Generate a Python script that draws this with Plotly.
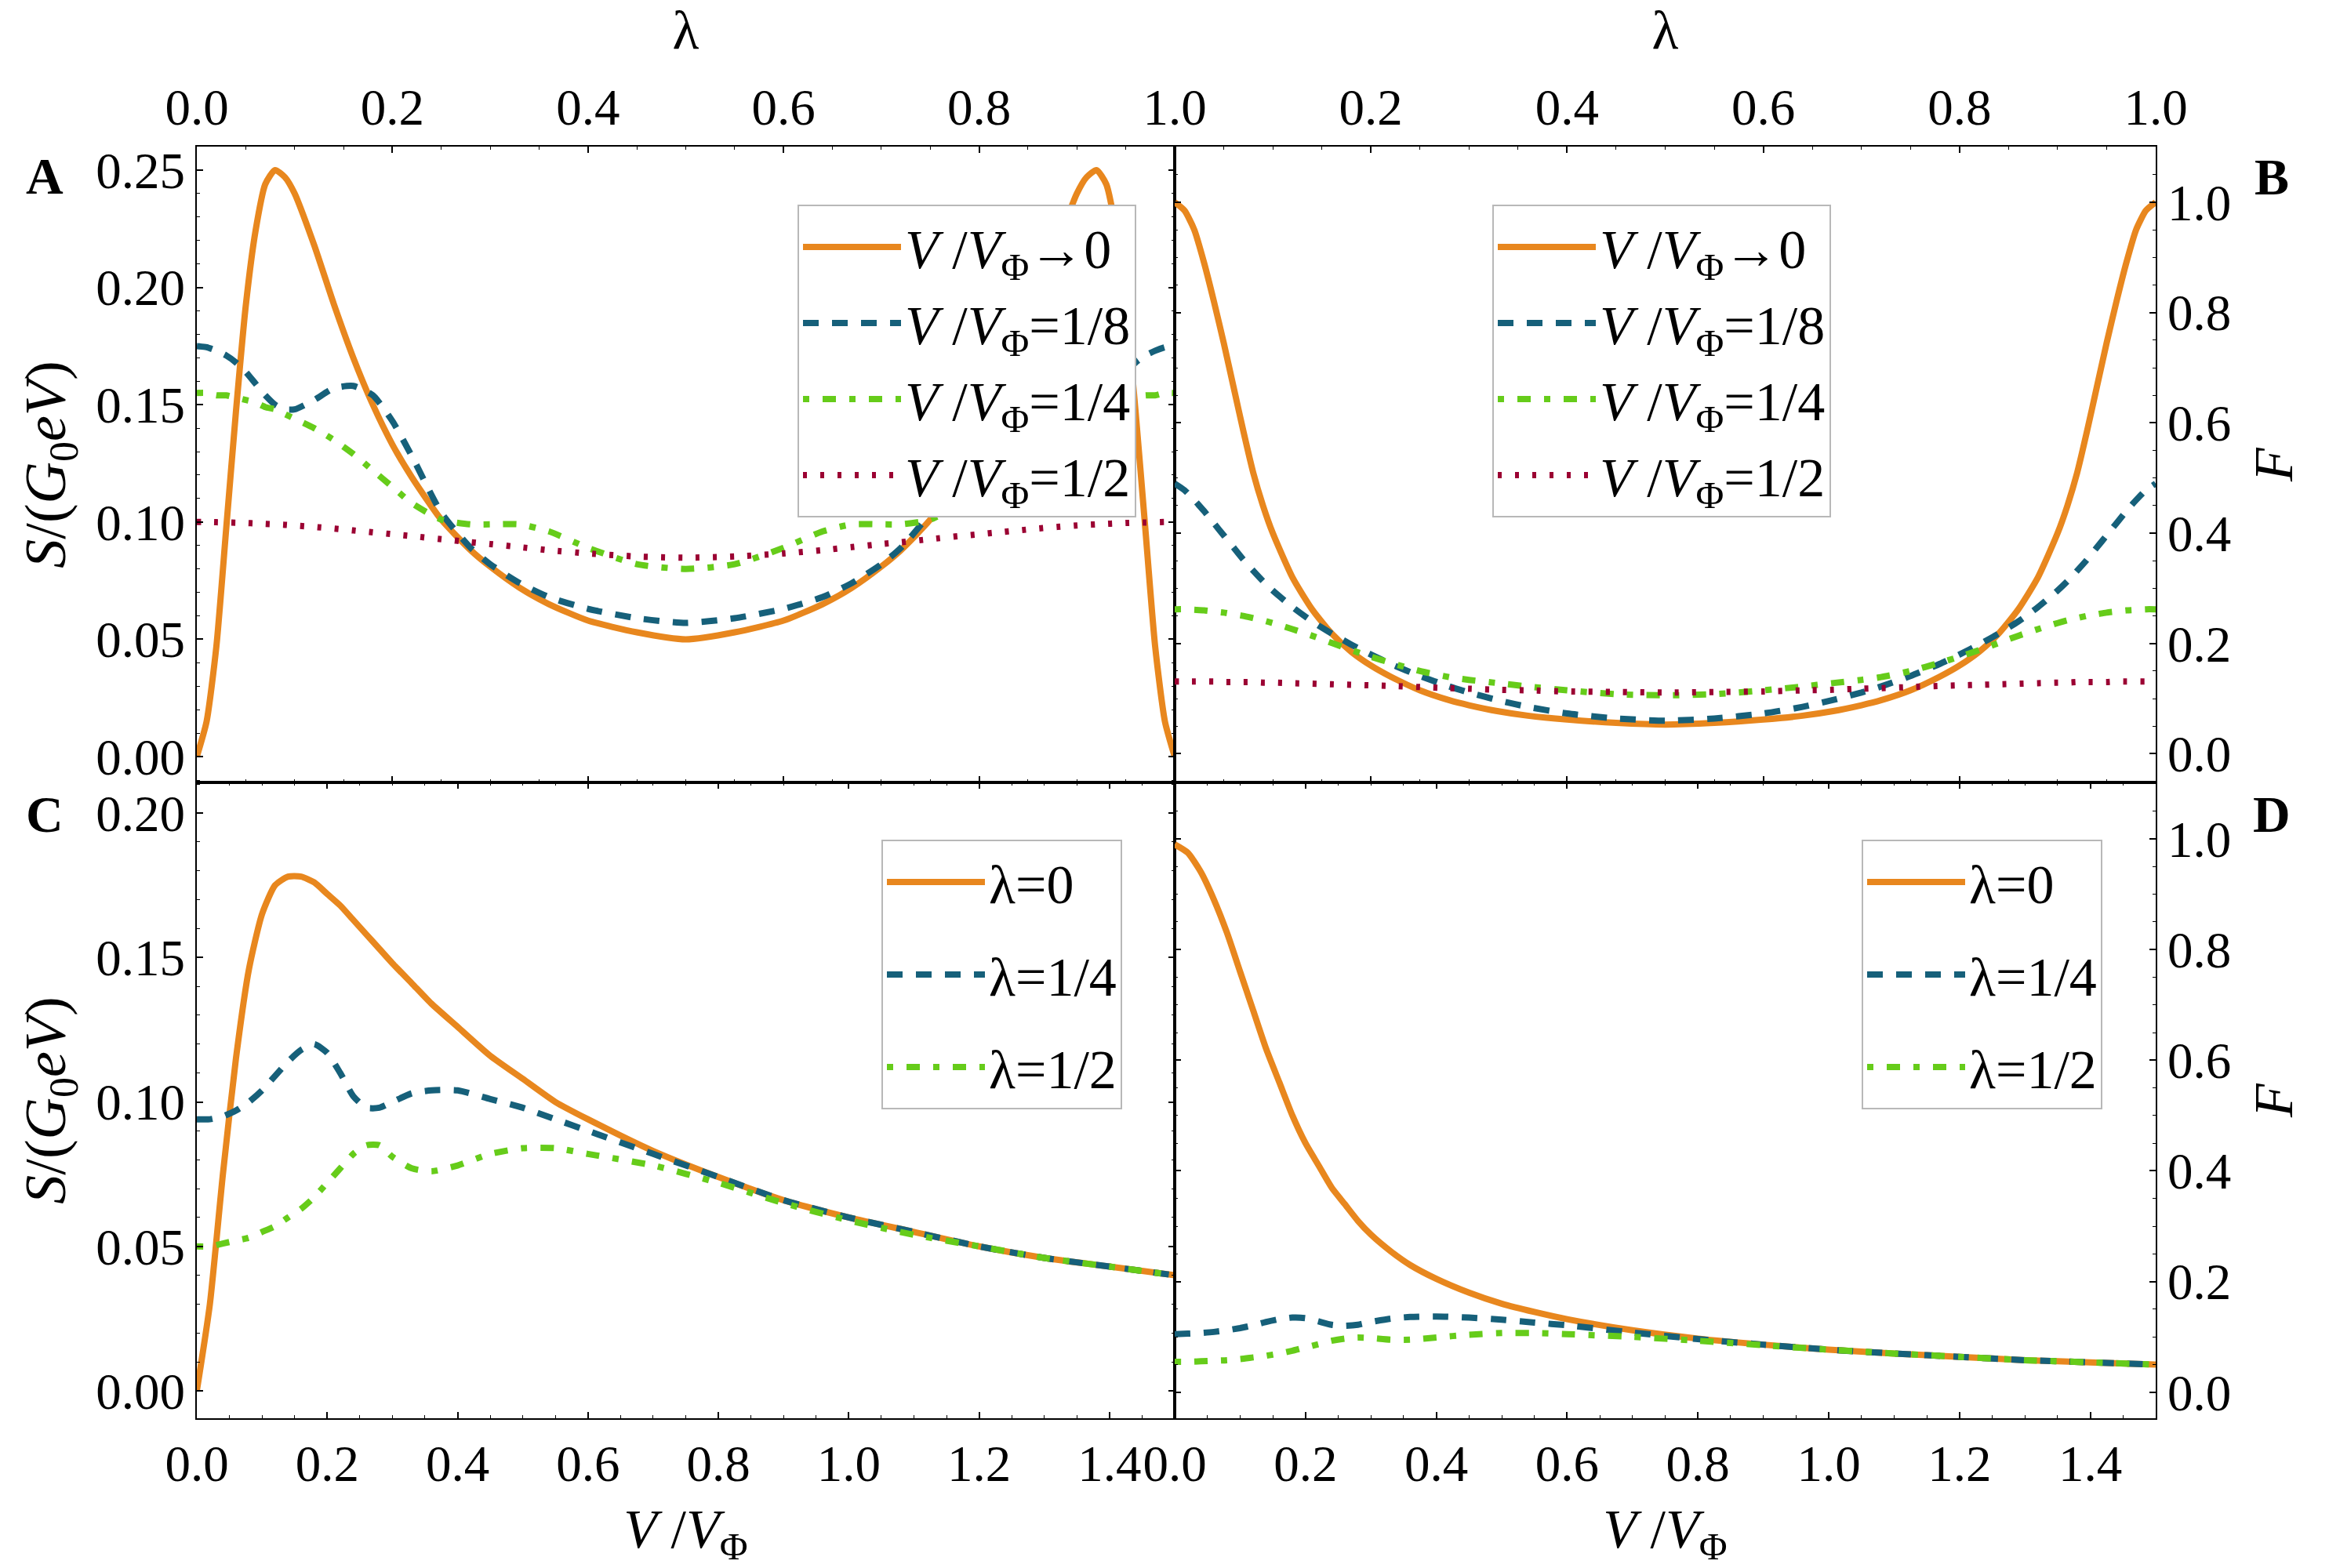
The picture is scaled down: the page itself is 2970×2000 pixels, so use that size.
import plotly.graph_objects as go

# ---------------- data ----------------
LAM = [0, .01, .02, .03, .04, .05, .06, .07, .08, .09, .10, .12, .14, .16, .18, .20, .22, .25, .28, .30, .33, .36, .40, .45, .50,
       .55, .60, .64, .67, .70, .72, .75, .78, .80, .82, .84, .86, .88, .90, .91, .92, .93, .94, .95, .96, .97, .98, .99, 1.0]

# Panel A: S/(G0 e V) vs lambda
A_V0 = [0.000, 0.015, 0.047, 0.097, 0.147, 0.192, 0.224, 0.244, 0.250, 0.247, 0.240, 0.218, 0.193, 0.170, 0.150, 0.133, 0.119,
        0.101, 0.088, 0.081, 0.072, 0.065, 0.058, 0.053, 0.050,
        0.053, 0.058, 0.065, 0.072, 0.081, 0.088, 0.101, 0.119, 0.133, 0.150, 0.170, 0.193, 0.218, 0.240, 0.247, 0.250, 0.244,
        0.224, 0.192, 0.147, 0.097, 0.047, 0.015, 0.000]
A_V8 = [0.175, 0.1745, 0.173, 0.171, 0.168, 0.164, 0.159, 0.154, 0.150, 0.148, 0.148, 0.152, 0.157, 0.158, 0.154, 0.143, 0.128,
        0.104, 0.089, 0.082, 0.074, 0.068, 0.063, 0.059, 0.057,
        0.059, 0.063, 0.068, 0.074, 0.082, 0.089, 0.104, 0.128, 0.143, 0.154, 0.158, 0.157, 0.152, 0.148, 0.148, 0.150, 0.154,
        0.159, 0.164, 0.168, 0.171, 0.173, 0.1745, 0.175]
A_V4 = [0.155, 0.155, 0.154, 0.154, 0.153, 0.152, 0.151, 0.149, 0.148, 0.146, 0.144, 0.140, 0.135, 0.129, 0.122, 0.115, 0.108,
        0.101, 0.099, 0.099, 0.099, 0.096, 0.089, 0.082, 0.080,
        0.082, 0.089, 0.096, 0.099, 0.099, 0.099, 0.101, 0.108, 0.115, 0.122, 0.129, 0.135, 0.140, 0.144, 0.146, 0.148, 0.149,
        0.151, 0.152, 0.153, 0.154, 0.154, 0.155, 0.155]
A_V2 = [0.1000, 0.1000, 0.0999, 0.0998, 0.0997, 0.0996, 0.0994, 0.0992, 0.0990, 0.0988, 0.0985, 0.0979, 0.0972, 0.0964, 0.0956,
        0.0948, 0.0940, 0.0927, 0.0914, 0.0906, 0.0893, 0.0880, 0.0866, 0.0853, 0.0848,
        0.0853, 0.0866, 0.0880, 0.0893, 0.0906, 0.0914, 0.0927, 0.0940, 0.0948, 0.0956, 0.0964, 0.0972, 0.0979, 0.0985, 0.0988,
        0.0990, 0.0992, 0.0994, 0.0996, 0.0997, 0.0998, 0.0999, 0.1000, 0.1000]

# Panel B: Fano factor vs lambda
B_V0 = [1.000, 0.985, 0.950, 0.890, 0.820, 0.745, 0.665, 0.585, 0.510, 0.450, 0.400, 0.320, 0.262, 0.218, 0.185, 0.160, 0.140,
        0.115, 0.097, 0.088, 0.077, 0.069, 0.062, 0.056, 0.053,
        0.056, 0.062, 0.069, 0.077, 0.088, 0.097, 0.115, 0.140, 0.160, 0.185, 0.218, 0.262, 0.320, 0.400, 0.450, 0.510, 0.585,
        0.665, 0.745, 0.820, 0.890, 0.950, 0.985, 1.000]
B_V8 = [0.490, 0.478, 0.460, 0.440, 0.418, 0.396, 0.374, 0.352, 0.332, 0.313, 0.296, 0.266, 0.240, 0.218, 0.198, 0.180, 0.163,
        0.141, 0.122, 0.111, 0.097, 0.085, 0.073, 0.064, 0.060,
        0.064, 0.073, 0.085, 0.097, 0.111, 0.122, 0.141, 0.163, 0.180, 0.198, 0.218, 0.240, 0.266, 0.296, 0.313, 0.332, 0.352,
        0.374, 0.396, 0.418, 0.440, 0.460, 0.478, 0.490]
B_V4 = [0.262, 0.262, 0.261, 0.260, 0.258, 0.256, 0.253, 0.250, 0.246, 0.242, 0.237, 0.226, 0.214, 0.201, 0.188, 0.176, 0.165,
        0.150, 0.139, 0.134, 0.128, 0.122, 0.115, 0.108, 0.106,
        0.108, 0.115, 0.122, 0.128, 0.134, 0.139, 0.150, 0.165, 0.176, 0.188, 0.201, 0.214, 0.226, 0.237, 0.242, 0.246, 0.250,
        0.253, 0.256, 0.258, 0.260, 0.261, 0.262, 0.262]
B_V2 = [0.131, 0.131, 0.131, 0.131, 0.131, 0.130, 0.130, 0.130, 0.130, 0.129, 0.129, 0.128, 0.127, 0.126, 0.125, 0.124, 0.123,
        0.121, 0.119, 0.118, 0.116, 0.115, 0.113, 0.112, 0.111,
        0.112, 0.113, 0.115, 0.116, 0.118, 0.119, 0.121, 0.123, 0.124, 0.125, 0.126, 0.127, 0.128, 0.129, 0.129, 0.130, 0.130,
        0.130, 0.130, 0.131, 0.131, 0.131, 0.131, 0.131]

VV = [0, .02, .04, .06, .08, .10, .12, .14, .16, .18, .20, .22, .24, .26, .28, .30, .33, .36, .40, .45, .50, .55, .60, .70,
      .80, .90, 1.0, 1.1, 1.2, 1.3, 1.4, 1.5]

# Panel C: S/(G0 e V) vs V/VPhi
C_L0 = [0.000, 0.030, 0.075, 0.115, 0.146, 0.165, 0.175, 0.178, 0.178, 0.176, 0.172, 0.168, 0.163, 0.158, 0.153, 0.148, 0.141,
        0.134, 0.126, 0.116, 0.108, 0.100, 0.094, 0.083, 0.074, 0.066, 0.060, 0.055, 0.050, 0.046, 0.043, 0.040]
C_L4 = [0.094, 0.094, 0.095, 0.097, 0.100, 0.104, 0.109, 0.114, 0.118, 0.120, 0.117, 0.110, 0.102, 0.098, 0.098, 0.100, 0.103,
        0.104, 0.104, 0.101, 0.098, 0.094, 0.090, 0.082, 0.074, 0.066, 0.060, 0.055, 0.050, 0.046, 0.043, 0.040]
C_L2 = [0.050, 0.050, 0.051, 0.052, 0.053, 0.055, 0.057, 0.060, 0.063, 0.067, 0.072, 0.077, 0.082, 0.085, 0.085, 0.081, 0.077,
        0.076, 0.078, 0.082, 0.084, 0.084, 0.082, 0.078, 0.072, 0.065, 0.059, 0.054, 0.050, 0.046, 0.043, 0.040]

# Panel D: Fano factor vs V/VPhi
D_L0 = [0.990, 0.975, 0.940, 0.890, 0.830, 0.760, 0.690, 0.620, 0.560, 0.500, 0.450, 0.410, 0.370, 0.340, 0.310, 0.285, 0.255,
        0.230, 0.205, 0.180, 0.160, 0.145, 0.132, 0.112, 0.097, 0.086, 0.077, 0.070, 0.064, 0.058, 0.054, 0.050]
D_L4 = [0.105, 0.106, 0.107, 0.109, 0.112, 0.116, 0.121, 0.127, 0.132, 0.135, 0.134, 0.128, 0.122, 0.120, 0.122, 0.127, 0.133,
        0.136, 0.137, 0.135, 0.131, 0.126, 0.121, 0.108, 0.096, 0.086, 0.077, 0.070, 0.064, 0.058, 0.054, 0.050]
D_L2 = [0.055, 0.055, 0.056, 0.057, 0.058, 0.060, 0.063, 0.066, 0.070, 0.075, 0.081, 0.087, 0.093, 0.097, 0.099, 0.098, 0.095,
        0.095, 0.099, 0.104, 0.107, 0.107, 0.105, 0.100, 0.093, 0.085, 0.077, 0.070, 0.064, 0.058, 0.054, 0.050]

TOP_LABELS = ["<i>V</i> /<i>V</i><sub>Φ</sub>→0", "<i>V</i> /<i>V</i><sub>Φ</sub>=1/8",
              "<i>V</i> /<i>V</i><sub>Φ</sub>=1/4", "<i>V</i> /<i>V</i><sub>Φ</sub>=1/2"]
BOT_LABELS = ["λ=0", "λ=1/4", "λ=1/2"]

# ---------------- styles ----------------
FONT = "Liberation Serif, Times New Roman, Times, serif"
ORANGE, TEAL, GREEN, CRIMSON = "#E8871E", "#16607A", "#66CC1A", "#9B0032"
STYLES = [dict(color=ORANGE, width=8, dash="solid"),
          dict(color=TEAL, width=8, dash="20px,17px"),
          dict(color=GREEN, width=8, dash="8px,17px,17px,17px"),
          dict(color=CRIMSON, width=8, dash="5px,17px")]

fig = go.Figure()

def add(x, y, xa, ya, label, style, legend, group):
    fig.add_trace(go.Scatter(x=x, y=y, xaxis=xa, yaxis=ya, mode="lines", name=label,
                             line=dict(shape="spline", smoothing=0.6, **style),
                             legend=legend, legendgroup=group, showlegend=True))

for i, ys in enumerate([A_V0, A_V8, A_V4, A_V2]):
    add(LAM, ys, "x", "y", TOP_LABELS[i], STYLES[i], "legend", f"a{i}")
for i, ys in enumerate([B_V0, B_V8, B_V4, B_V2]):
    add(LAM, ys, "x2", "y2", TOP_LABELS[i], STYLES[i], "legend2", f"b{i}")
for i, ys in enumerate([C_L0, C_L4, C_L2]):
    add(VV, ys, "x3", "y3", BOT_LABELS[i], STYLES[i], "legend3", f"c{i}")
for i, ys in enumerate([D_L0, D_L4, D_L2]):
    add(VV, ys, "x4", "y4", BOT_LABELS[i], STYLES[i], "legend4", f"d{i}")

W, H = 2970, 2000
ML, MR, MT, MB = 251, 221, 187, 191
PW, PH = W - ML - MR, H - MT - MB
xsplit = 1247 / PW

tickfont = dict(family=FONT, size=65, color="black")
titlefont = dict(family=FONT, size=70, color="black")
stitlefont = dict(family=FONT, size=74, color="black")

def axis(**kw):
    base = dict(showline=True, linecolor="black", linewidth=2, mirror="ticks", ticks="inside",
                ticklen=8, tickwidth=1.5, tickcolor="black", showgrid=False, zeroline=False,
                tickfont=tickfont, fixedrange=True)
    base.update(kw)
    return base

def minor(d):
    return dict(ticks="inside", ticklen=4, tickwidth=1.2, tickcolor="black", dtick=d, tick0=0, showgrid=False)

leg_common = dict(font=dict(family=FONT, size=70, color="black"), bgcolor="white",
                  bordercolor="#B8B8B8", borderwidth=2, xanchor="left", yanchor="top",
                  traceorder="grouped", itemwidth=125)

def px(xf):
    return (xf - ML) / PW

def py(yf):
    return (H - MB - yf) / PH

fig.update_layout(
    width=W, height=H, margin=dict(l=ML, r=MR, t=MT, b=MB),
    paper_bgcolor="white", plot_bgcolor="white", font=dict(family=FONT, color="black"),
    xaxis=axis(domain=[0, xsplit], anchor="y", side="top", range=[0, 1], dtick=0.2, tick0=0, tickformat=".1f",
               minor=minor(0.05), title=dict(text="λ", font=titlefont, standoff=38)),
    yaxis=axis(domain=[0.5, 1], anchor="x", side="left", range=[-0.011, 0.260], dtick=0.05, tick0=0,
               tickformat=".2f", minor=minor(0.01),
               title=dict(text="<i>S</i>/(<i>G</i><sub>0</sub><i>eV</i>)", font=stitlefont, standoff=14)),
    xaxis2=axis(domain=[xsplit, 1], anchor="y2", side="top", range=[0, 1], tickvals=[0.2, 0.4, 0.6, 0.8, 1.0],
                ticktext=["0.2", "0.4", "0.6", "0.8", "1.0"],
                minor=minor(0.05), title=dict(text="λ", font=titlefont, standoff=38)),
    yaxis2=axis(domain=[0.5, 1], anchor="x2", side="right", range=[-0.052, 1.101], dtick=0.2, tick0=0,
                tickformat=".1f", minor=minor(0.05),
                title=dict(text="<i>F</i>", font=titlefont, standoff=30)),
    xaxis3=axis(domain=[0, xsplit], anchor="y3", side="bottom", range=[0, 1.5], dtick=0.2, tick0=0,
                tickformat=".1f", minor=minor(0.05),
                title=dict(text="<i>V</i> /<i>V</i><sub>Φ</sub>", font=titlefont, standoff=30)),
    yaxis3=axis(domain=[0, 0.5], anchor="x3", side="left", range=[-0.0095, 0.2106], dtick=0.05, tick0=0,
                tickformat=".2f", minor=minor(0.01),
                title=dict(text="<i>S</i>/(<i>G</i><sub>0</sub><i>eV</i>)", font=stitlefont, standoff=14)),
    xaxis4=axis(domain=[xsplit, 1], anchor="y4", side="bottom", range=[0, 1.5], dtick=0.2, tick0=0,
                tickformat=".1f", minor=minor(0.05),
                title=dict(text="<i>V</i> /<i>V</i><sub>Φ</sub>", font=titlefont, standoff=30)),
    yaxis4=axis(domain=[0, 0.5], anchor="x4", side="right", range=[-0.047, 1.102], dtick=0.2, tick0=0,
                tickformat=".1f", minor=minor(0.05),
                title=dict(text="<i>F</i>", font=titlefont, standoff=30)),
    legend=dict(x=px(1017), y=py(261), tracegroupgap=3, **leg_common),
    legend2=dict(x=px(1903), y=py(261), tracegroupgap=3, **leg_common),
    legend3=dict(x=px(1124), y=py(1071), tracegroupgap=24, **leg_common),
    legend4=dict(x=px(2374), y=py(1071), tracegroupgap=24, **leg_common),
    showlegend=True,
)

for letter, xf, yf in [("A", 57, 224), ("B", 2897, 226), ("C", 57, 1038), ("D", 2897, 1038)]:
    fig.add_annotation(text=f"<b>{letter}</b>", x=px(xf), y=py(yf), xref="paper", yref="paper",
                       showarrow=False, xanchor="center", yanchor="middle",
                       font=dict(family=FONT, size=66, color="black"))

fig.write_html("out.html")
